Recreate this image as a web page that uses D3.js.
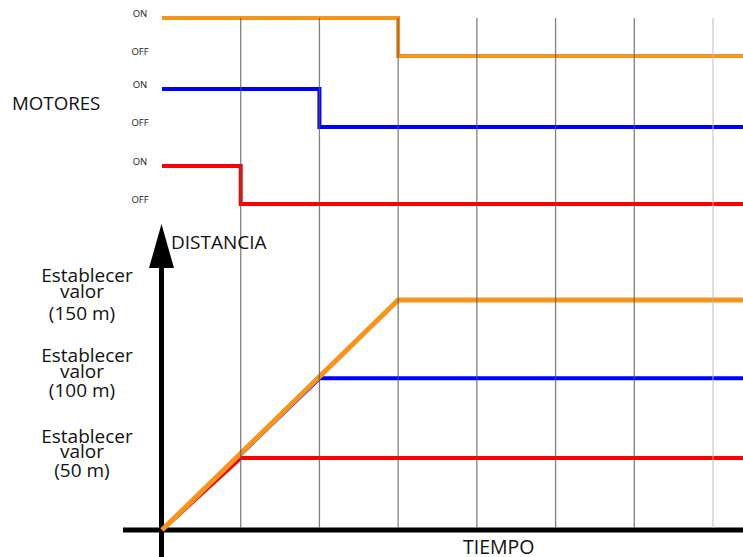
<!DOCTYPE html>
<html><head><meta charset="utf-8">
<script src="https://cdn.jsdelivr.net/npm/d3@7"></script>
<style>html,body{margin:0;padding:0;background:#fff;}svg{display:block;}</style>
</head><body>
<svg id="c" width="743" height="557"></svg>
<script>
// Data
const motors = ["Motor 3", "Motor 2", "Motor 1"];          // top to bottom
const motorColors = ["#f7941d", "#0000ff", "#ff0000"];
const offTimes = [3, 2, 1];                                 // time at which motor switches OFF
const setValues = [150, 99, 47];                            // distance reached (m)
const gridTimes = [1, 2, 3, 4, 5, 6, 7];
const stateLabels = ["ON", "OFF"];
const setLabels = [
  ["Establecer", "valor", "(150 m)"],
  ["Establecer", "valor", "(100 m)"],
  ["Establecer", "valor", "(50 m)"]
];

const svg = d3.select("#c");
const font = "'Open Sans', 'Noto Sans', sans-serif";

const x = d3.scaleLinear().domain([0, 7]).range([162, 713]);
const tMax = x.invert(743);
const yMotor = d3.scaleOrdinal().domain(motors).range([18, 89, 166]);
const yState = d3.scaleLinear().domain([1, 0]).range([0, 38]);
const yDist = d3.scaleLinear().domain([0, 150]).range([530, 300]);

// Axes
svg.append("line").attr("x1", 123).attr("x2", 743).attr("y1", yDist(0)).attr("y2", yDist(0))
  .attr("stroke", "#000").attr("stroke-width", 5);
svg.append("line").attr("x1", 161.5).attr("x2", 161.5).attr("y1", 557).attr("y2", 262)
  .attr("stroke", "#000").attr("stroke-width", 5);
svg.append("path").attr("d", "M161.5,224 L149,268 L174,268 Z").attr("fill", "#000");

// Motor step lines
motors.forEach((m, i) => {
  const pts = [[0, 1], [offTimes[i], 1], [offTimes[i], 0], [tMax, 0]];
  const line = d3.line().x(d => x(d[0])).y(d => yMotor(m) + yState(d[1]));
  svg.append("path").attr("d", line(pts)).attr("fill", "none")
    .attr("stroke", motorColors[i]).attr("stroke-width", 4);
  stateLabels.forEach((s, j) => {
    svg.append("text").attr("x", 140).attr("y", yMotor(m) + yState(j === 0 ? 1 : 0) - 1)
      .attr("text-anchor", "middle").attr("font-family", font).attr("font-size", 9.5)
      .attr("fill", "#222").text(s);
  });
});

// Distance lines (draw red, blue, then orange on top)
[2, 1, 0].forEach(i => {
  const pts = [[0, 0], [offTimes[i], setValues[i]], [tMax, setValues[i]]];
  const line = d3.line().x(d => x(d[0])).y(d => yDist(d[1]));
  svg.append("path").attr("d", line(pts)).attr("fill", "none")
    .attr("stroke", motorColors[i]).attr("stroke-width", i === 0 ? 5 : 4)
    .attr("stroke-linejoin", "miter");
});

// Grid lines
svg.selectAll(".grid").data(gridTimes).enter().append("line")
  .attr("x1", d => x(d)).attr("x2", d => x(d)).attr("y1", 18).attr("y2", yDist(0) - 2)
  .attr("stroke", (d, i) => i === gridTimes.length - 1 ? "#bbb" : "#555")
  .attr("stroke-opacity", 0.75).attr("stroke-width", 1.3);

// Texts
svg.append("text").attr("x", 12).attr("y", 110).attr("font-family", font).attr("font-size", 18.7)
  .attr("fill", "#111").text("MOTORES");
svg.append("text").attr("x", 171).attr("y", 249).attr("font-family", font).attr("font-size", 19)
  .attr("fill", "#111").text("DISTANCIA");
svg.append("text").attr("x", 463).attr("y", 554).attr("font-family", font).attr("font-size", 19.5)
  .attr("fill", "#111").text("TIEMPO");

const labelBase = [[282, 298, 320], [362, 378, 397], [443, 458, 477]];
const labelX = [87, 82, 82];
setLabels.forEach((lines, i) => {
  lines.forEach((t, j) => {
    svg.append("text").attr("x", labelX[j]).attr("y", labelBase[i][j])
      .attr("text-anchor", "middle").attr("font-family", font).attr("font-size", 19)
      .attr("fill", "#111").text(t);
  });
});
</script>
</body></html>
